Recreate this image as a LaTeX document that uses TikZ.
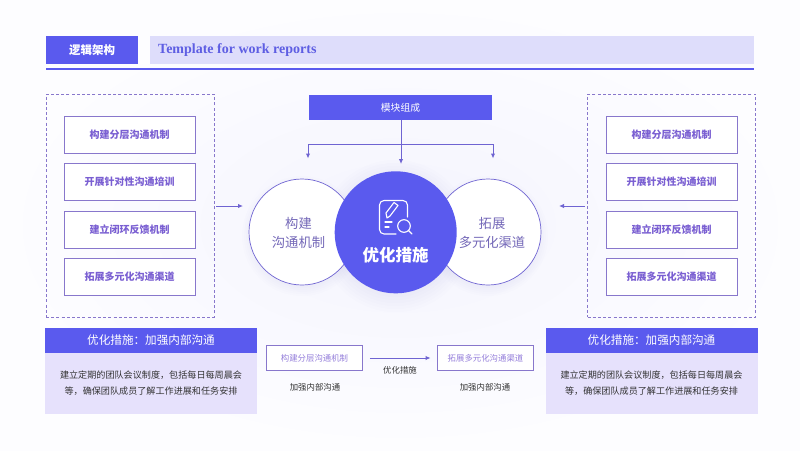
\documentclass[tikz,border=0pt]{standalone}
\usepackage{fontspec}
\setmainfont{Noto Sans CJK SC}
\newfontfamily\latinserif{Liberation Serif}
\usetikzlibrary{arrows.meta,positioning,calc}
\definecolor{mainblue}{HTML}{5A5AEE}
\definecolor{headlight}{HTML}{DEDDFB}
\definecolor{panellight}{HTML}{E6E1FC}
\definecolor{framepurple}{HTML}{8877CC}
\definecolor{listpurple}{HTML}{7A5FD2}
\definecolor{roundtext}{HTML}{7468B8}
\definecolor{linepurple}{HTML}{6F64D2}
\definecolor{pagemid}{HTML}{F4F4FE}
\definecolor{pageedge}{HTML}{FDFDFF}
\newcommand{\fsz}[2]{\fontsize{#1}{#2}\selectfont}
\tikzset{
	bar/.style={fill=mainblue, text=white, inner sep=0pt},
	listbox/.style={draw=framepurple, fill=white, line width=0.9pt, minimum width=131pt, minimum height=37pt, inner sep=0pt, text=listpurple, font=\fsz{10}{12}\bfseries},
	smallbox/.style={draw=framepurple, fill=white, line width=0.9pt, minimum width=96pt, minimum height=25pt, inner sep=0pt, text=listpurple!80, font=\fsz{8.4}{10}},
	dashbox/.style={draw=framepurple, dashed, line width=0.7pt, dash pattern=on 3pt off 2.2pt, minimum width=168pt, minimum height=223pt, inner sep=0pt},
	sidecircle/.style={circle, draw=linepurple, fill=white, line width=0.7pt, minimum size=106pt, inner sep=0pt},
	roundlabel/.style={inner sep=0pt, align=center, text=roundtext, font=\fsz{13.3}{19}},
	panelbody/.style={fill=panellight, minimum width=212pt, minimum height=61pt, inner sep=0pt, align=center, text=black!80, font=\fsz{9.1}{16.5}},
	panelhead/.style={bar, minimum width=212pt, minimum height=25pt, font=\fsz{11.6}{14}},
	plainlabel/.style={inner sep=0pt, text=black!80, font=\fsz{8.4}{10}},
	arrow/.style={draw=linepurple, line width=1pt, -{Latex[length=5pt,width=4.5pt]}},
	iconline/.style={draw=white, line width=1.1pt, line cap=round, line join=round}
}
\begin{document}
\begin{tikzpicture}[x=1pt,y=-1pt]
	\useasboundingbox (0,0) rectangle (800,450);
	\shade[inner color=pagemid, outer color=pageedge] (0,0) rectangle (800,450);
	% header
	\node[bar, minimum width=92pt, minimum height=28pt, font=\fsz{11.5}{14}\bfseries] (title) at (92,50) {逻辑架构};
	\node[fill=headlight, minimum width=604pt, minimum height=28pt, inner sep=0pt] (subtitle) at (452,50) {};
	\node[anchor=west, inner sep=0pt, text=mainblue!90!gray, font=\latinserif\fsz{14}{16}\bfseries] (subtext) at (158,50) {Template for work reports};
	\coordinate (ruleL) at (46,69);
	\coordinate (ruleR) at (754,69);
	\draw[mainblue, line width=1.5pt] (ruleL) -- (ruleR);
	% left and right columns
	\node[dashbox] (dashL) at (130,205.5) {};
	\node[dashbox] (dashR) at (671.5,205.5) {};
	\foreach \side/\cx in {L/129.5,R/671.5}{
		\node[listbox] (one\side) at (\cx,134.5) {构建分层沟通机制};
		\node[listbox] (two\side) at (\cx,182) {开展针对性沟通培训};
		\node[listbox] (three\side) at (\cx,229.5) {建立闭环反馈机制};
		\node[listbox] (four\side) at (\cx,277) {拓展多元化沟通渠道};
	}
	% soft shadows
	\foreach \r in {60,58,...,44}{
		\fill[mainblue, opacity=0.006] (302,236) circle (\r);
		\fill[mainblue, opacity=0.006] (488,236) circle (\r);
	}
	\foreach \r in {76,73,...,58}{
		\fill[mainblue, opacity=0.012] (395.5,236) circle (\r);
	}
	% circles
	\node[sidecircle] (build) at (302,232) {};
	\node[sidecircle] (expand) at (488,232) {};
	\node[roundlabel] (buildtext) at (298.5,232.5) {构建\\沟通机制};
	\node[roundlabel] (expandtext) at (492,232.5) {拓展\\多元化渠道};
	\node[circle, fill=mainblue, minimum size=122pt, inner sep=0pt] (centre) at (395.7,232.3) {};
	\node[inner sep=0pt, text=white, font=\fsz{16.5}{20}\bfseries] (centretext) at (395.5,255) {优化措施};
	% icon
	\draw[iconline] (396,234) -- (384,234) arc(90:180:4.5) -- (379.5,205) arc(180:270:4.5) -- (403,200.5) arc(-90:0:4.5) -- (407.5,217);
	\draw[iconline] (387,218) -- (386,213) -- (394,202.5) -- (398,205.5) -- (390,216) -- cycle;
	\draw[iconline] (385,222) -- (392,222) (385,227) -- (389,227);
	\draw[iconline] (404,226) circle (6.3);
	\draw[iconline] (408.5,230.5) -- (412,234);
	% module bar
	\node[bar, minimum width=183pt, minimum height=25pt, font=\fsz{9.8}{12}] (module) at (400.5,107.5) {模块组成};
	\coordinate (forkL) at (308,144.5);
	\coordinate (forkR) at (493,144.5);
	\coordinate (tipL) at (308,158.5);
	\coordinate (tipR) at (493,158.5);
	\coordinate (tipC) at (401,164);
	\draw[arrow] (module.south -| tipC) -- (tipC);
	\draw[arrow] (forkL -| tipC) -- (forkL) -- (tipL);
	\draw[arrow] (forkL -| tipC) -- (forkR) -- (tipR);
	% side arrows
	\coordinate (inL) at (243,206);
	\coordinate (inR) at (559,206);
	\draw[arrow] (dashL.east |- inL) ++(2,0) -- (inL);
	\draw[arrow] (dashR.west |- inR) ++(-2,0) -- (inR);
	% bottom panels
	\foreach \side/\cx in {L/151,R/651.5}{
		\node[panelbody] (body\side) at (\cx,383) {建立定期的团队会议制度^^^^ff0c包括每日每周晨会\\等^^^^ff0c确保团队成员了解工作进展和任务安排};
		\node[panelhead] (head\side) at (\cx,340.5) {优化措施^^^^ff1a加强内部沟通};
	}
	% bottom flow
	\node[smallbox] (flowA) at (314.5,358) {构建分层沟通机制};
	\node[smallbox] (flowB) at (485.5,358) {拓展多元化沟通渠道};
	\draw[arrow] ($(flowA.east)+(7,0)$) -- ($(flowB.west)+(-6.5,0)$);
	\node[plainlabel] (flowlabel) at (400,370) {优化措施};
	\node[plainlabel] (subA) at (315,387.5) {加强内部沟通};
	\node[plainlabel] (subB) at (485,387.5) {加强内部沟通};
\end{tikzpicture}
\end{document}
